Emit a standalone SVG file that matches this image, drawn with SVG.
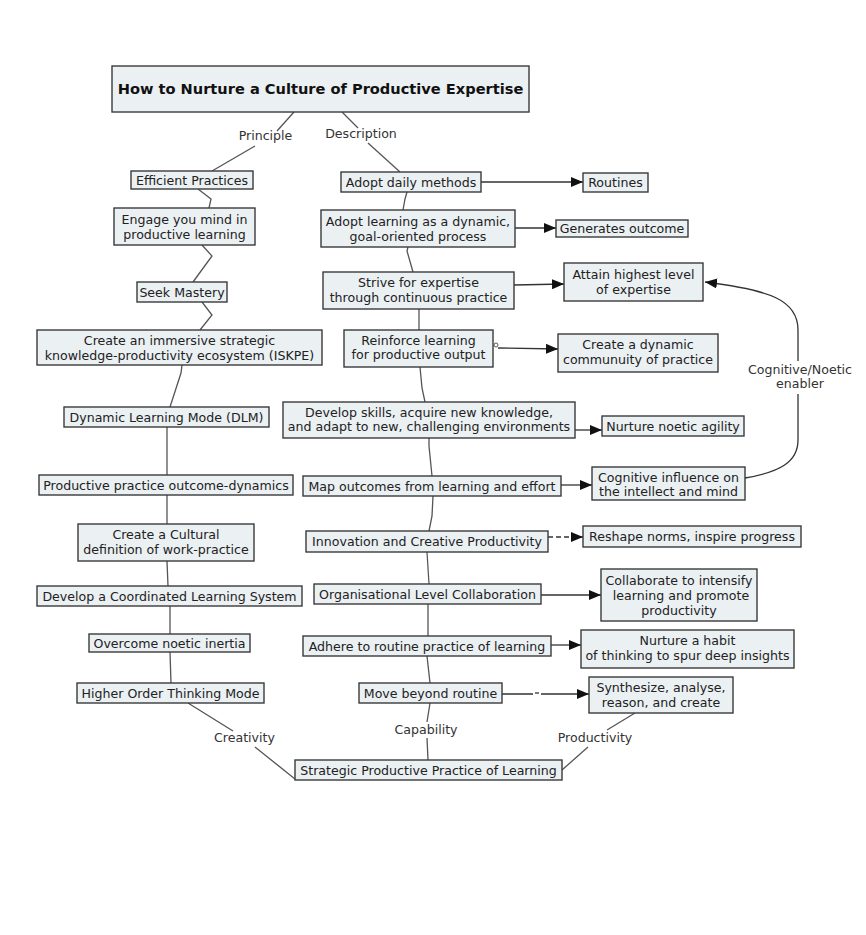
<svg xmlns="http://www.w3.org/2000/svg" width="866" height="935" viewBox="0 0 866 935">
<style>
.box{fill:#ebf0f3;stroke:#3a3a3a;stroke-width:1.4}
.t{font-family:"DejaVu Sans",Verdana,sans-serif;font-size:12.6px;fill:#222;text-anchor:middle}
.title{font-family:"DejaVu Sans",Verdana,sans-serif;font-size:14.6px;font-weight:bold;fill:#111;text-anchor:middle}
.lbl{font-family:"DejaVu Sans",Verdana,sans-serif;font-size:12.6px;fill:#333;text-anchor:middle}
.ln{fill:none;stroke:#555;stroke-width:1.3}
.ar{fill:none;stroke:#333;stroke-width:1.3}
.dash{stroke-dasharray:5,3}
</style>
<defs>
<marker id="ah" markerUnits="userSpaceOnUse" markerWidth="13" markerHeight="10" refX="12" refY="5" orient="auto">
<path d="M0,0 L12,5 L0,10 Z" fill="#111"/>
</marker>
</defs>
<rect width="866" height="935" fill="#ffffff"/>

<g id="connectors">
<path class="ln" d="M294,112 L277,131"/>
<path class="ln" d="M255,146 L212,171"/>
<path class="ln" d="M342,112 L358,128"/>
<path class="ln" d="M368,143 L400,172"/>
<path class="ln" d="M198,189 L211,199 L209,208"/>
<path class="ln" d="M202,245 L212,256 L193,282"/>
<path class="ln" d="M202,302 L212,315 L200,330"/>
<path class="ln" d="M182,365 L181,373 L170,407"/>
<path class="ln" d="M167,427 L167,475"/>
<path class="ln" d="M167,495 L167,524"/>
<path class="ln" d="M167,561 L168,586"/>
<path class="ln" d="M170,606 L170,634"/>
<path class="ln" d="M170,652 L171,683"/>
<path class="ln" d="M188,703 L233,731"/>
<path class="ln" d="M255,747 L295,779"/>
<path class="ln" d="M407,192 L405,199 L403,210"/>
<path class="ln" d="M408,247 L407,251 L413,272"/>
<path class="ln" d="M419,309 L419,330"/>
<path class="ln" d="M420,367 L422,388 L425,402"/>
<path class="ln" d="M429,438 L429,446 L432,476"/>
<path class="ln" d="M433,496 L432,516 L429,531"/>
<path class="ln" d="M427,552 L429,584"/>
<path class="ln" d="M428,604 L428,636"/>
<path class="ln" d="M427,656 L430,683"/>
<path class="ln" d="M430,703 L427,722"/>
<path class="ln" d="M427,738 L428,760"/>
<path class="ln" d="M635,713 L607,730"/>
<path class="ln" d="M588,747 L562,770"/>

<path class="ar" d="M481,182 L583,182" marker-end="url(#ah)"/>
<path class="ar" d="M515,228 L556,228" marker-end="url(#ah)"/>
<path class="ar" d="M514,285 L564,284" marker-end="url(#ah)"/>
<circle cx="496" cy="345" r="2" fill="none" stroke="#555" stroke-width="1"/>
<path class="ar" d="M498,348 L558,349" marker-end="url(#ah)"/>
<path class="ar" d="M575,430 L602,430" marker-end="url(#ah)"/>
<path class="ar" d="M561,485 L592,485" marker-end="url(#ah)"/>
<path class="ar dash" d="M548,537 L583,537" marker-end="url(#ah)"/>
<path class="ar" d="M541,595 L601,595" marker-end="url(#ah)"/>
<path class="ar" d="M551,645 L581,645" marker-end="url(#ah)"/>
<path class="ar" d="M502,694 L533,694 M541,694 L589,694" marker-end="url(#ah)"/>
<path class="ar" d="M535,693 L539,693"/>
<path class="ar" d="M745,478 C780,472 798,462 798,440 L798,394"/>
<path class="ar" d="M798,361 L798,330 C798,300 770,290 705,282" marker-end="url(#ah)"/>

<text class="lbl" x="265.5" y="140">Principle</text>
<text class="lbl" x="361" y="137.5">Description</text>
<text class="lbl" x="244.5" y="742">Creativity</text>
<text class="lbl" x="426" y="734">Capability</text>
<text class="lbl" x="595" y="742">Productivity</text>
<text class="lbl" x="800" y="374">Cognitive/Noetic</text>
<text class="lbl" x="800" y="388">enabler</text>
</g>

<g id="n-title"><rect class="box" x="112" y="66" width="417" height="46"/><text class="title" x="320.5" y="94">How to Nurture a Culture of Productive Expertise</text></g>

<g id="n-efficient"><rect class="box" x="131" y="171" width="122" height="18"/><text class="t" x="192" y="184.5">Efficient Practices</text></g>
<g id="n-engage"><rect class="box" x="114" y="208" width="141" height="37"/><text class="t" x="184.5" y="223.5">Engage you mind in</text><text class="t" x="184.5" y="238.5">productive learning</text></g>
<g id="n-seek"><rect class="box" x="137" y="282" width="90" height="20"/><text class="t" x="182" y="296.5">Seek Mastery</text></g>
<g id="n-iskpe"><rect class="box" x="37" y="330" width="285" height="35"/><text class="t" x="179.5" y="345">Create an immersive strategic</text><text class="t" x="179.5" y="359.5">knowledge-productivity ecosystem (ISKPE)</text></g>
<g id="n-dlm"><rect class="box" x="64" y="407" width="205" height="20"/><text class="t" x="166.5" y="421.5">Dynamic Learning Mode (DLM)</text></g>
<g id="n-ppod"><rect class="box" x="39" y="475" width="254" height="20"/><text class="t" x="166" y="489.5">Productive practice outcome-dynamics</text></g>
<g id="n-cultural"><rect class="box" x="78" y="524" width="176" height="37"/><text class="t" x="166" y="539">Create a Cultural</text><text class="t" x="166" y="553.5">definition of work-practice</text></g>
<g id="n-coord"><rect class="box" x="37" y="586" width="265" height="20"/><text class="t" x="169.5" y="600.5">Develop a Coordinated Learning System</text></g>
<g id="n-inertia"><rect class="box" x="89" y="634" width="161" height="18"/><text class="t" x="169.5" y="647.5">Overcome noetic inertia</text></g>
<g id="n-higher"><rect class="box" x="77" y="683" width="187" height="20"/><text class="t" x="170.5" y="697.5">Higher Order Thinking Mode</text></g>
<g id="n-strategic"><rect class="box" x="295" y="760" width="267" height="20"/><text class="t" x="428.5" y="774.5">Strategic Productive Practice of Learning</text></g>

<g id="n-daily"><rect class="box" x="341" y="172" width="140" height="20"/><text class="t" x="411" y="186.5">Adopt daily methods</text></g>
<g id="n-routines"><rect class="box" x="583" y="173" width="65" height="19"/><text class="t" x="615.5" y="187">Routines</text></g>
<g id="n-adoptlearning"><rect class="box" x="321" y="210" width="194" height="37"/><text class="t" x="418" y="225.5">Adopt learning as a dynamic,</text><text class="t" x="418" y="240.5">goal-oriented process</text></g>
<g id="n-generates"><rect class="box" x="556" y="220" width="132" height="17"/><text class="t" x="622" y="233">Generates outcome</text></g>
<g id="n-strive"><rect class="box" x="323" y="272" width="191" height="37"/><text class="t" x="418.5" y="287">Strive for expertise</text><text class="t" x="418.5" y="302">through continuous practice</text></g>
<g id="n-attain"><rect class="box" x="564" y="263" width="139" height="38"/><text class="t" x="633.5" y="278.5">Attain highest level</text><text class="t" x="633.5" y="293.5">of expertise</text></g>
<g id="n-reinforce"><rect class="box" x="344" y="330" width="149" height="37"/><text class="t" x="418.5" y="344.5">Reinforce learning</text><text class="t" x="418.5" y="359">for productive output</text></g>
<g id="n-community"><rect class="box" x="558" y="334" width="160" height="38"/><text class="t" x="638" y="349">Create a dynamic</text><text class="t" x="638" y="364">communuity of practice</text></g>
<g id="n-skills"><rect class="box" x="283" y="402" width="292" height="36"/><text class="t" x="429" y="416.5">Develop skills, acquire new knowledge,</text><text class="t" x="429" y="431">and adapt to new, challenging environments</text></g>
<g id="n-agility"><rect class="box" x="602" y="416" width="142" height="20"/><text class="t" x="673" y="430.5">Nurture noetic agility</text></g>
<g id="n-map"><rect class="box" x="303" y="476" width="258" height="20"/><text class="t" x="432" y="490.5">Map outcomes from learning and effort</text></g>
<g id="n-cognitive"><rect class="box" x="592" y="467" width="153" height="33"/><text class="t" x="668.5" y="482">Cognitive influence on</text><text class="t" x="668.5" y="495.5">the intellect and mind</text></g>
<g id="n-innovation"><rect class="box" x="306" y="531" width="242" height="21"/><text class="t" x="427" y="546">Innovation and Creative Productivity</text></g>
<g id="n-reshape"><rect class="box" x="583" y="526" width="218" height="21"/><text class="t" x="692" y="541">Reshape norms, inspire progress</text></g>
<g id="n-org"><rect class="box" x="314" y="584" width="227" height="20"/><text class="t" x="427.5" y="598.5">Organisational Level Collaboration</text></g>
<g id="n-collab"><rect class="box" x="601" y="569" width="156" height="52"/><text class="t" x="679" y="584.5">Collaborate to intensify</text><text class="t" x="681" y="600"> learning and promote</text><text class="t" x="679" y="614.5">productivity</text></g>
<g id="n-adhere"><rect class="box" x="303" y="636" width="248" height="20"/><text class="t" x="427" y="650.5">Adhere to routine practice of learning</text></g>
<g id="n-habit"><rect class="box" x="581" y="630" width="213" height="38"/><text class="t" x="687.5" y="645">Nurture a habit</text><text class="t" x="687.5" y="660">of thinking to spur deep insights</text></g>
<g id="n-beyond"><rect class="box" x="359" y="683" width="143" height="20"/><text class="t" x="430.5" y="697.5">Move beyond routine</text></g>
<g id="n-synth"><rect class="box" x="589" y="677" width="144" height="36"/><text class="t" x="661" y="692">Synthesize, analyse,</text><text class="t" x="661" y="706.5">reason, and create</text></g>
</svg>
